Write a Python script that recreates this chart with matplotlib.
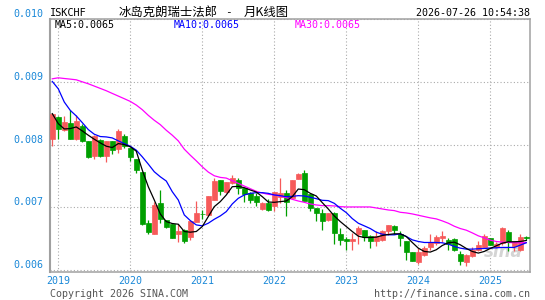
import numpy as np
import pandas as pd
import matplotlib
matplotlib.use("Agg")
import matplotlib.pyplot as plt

# ---------------- data ----------------
symbol = "ISKCHF"
title_name = "冰岛克朗瑞士法郎"
title_sep = "-"
title_kind = "月K线图"
timestamp = "2026-07-26 10:54:38"
copyright_txt = "Copyright 2026 SINA.COM"
url_txt = "http://finance.sina.com.cn"
start_month = "2018-12"

opens = [0.008095, 0.008439, 0.008227, 0.008343, 0.008084, 0.008296, 0.008053, 0.007815, 0.008068, 0.007815,
         0.008053, 0.007931, 0.008132, 0.007947, 0.007767, 0.007566, 0.006757, 0.006577, 0.007063, 0.006798,
         0.006730, 0.006571, 0.006630, 0.006524, 0.006772, 0.006899, 0.006878, 0.007116, 0.007434, 0.007238,
         0.007381, 0.007434, 0.007312, 0.007222, 0.007180, 0.006973, 0.007063, 0.007026, 0.007169, 0.007222,
         0.007153, 0.007450, 0.007540, 0.007211, 0.006984, 0.006905, 0.006798, 0.006915, 0.006577, 0.006497,
         0.006455, 0.006577, 0.006640, 0.006545, 0.006455, 0.006481, 0.006624, 0.006704, 0.006577, 0.006455,
         0.006285, 0.006122, 0.006243, 0.006360, 0.006428, 0.006508, 0.006471, 0.006492, 0.006259, 0.006122,
         0.006217, 0.006323, 0.006365, 0.006508, 0.006365, 0.006428, 0.006603, 0.006375, 0.006312, 0.006534]
highs = [0.008507, 0.008450, 0.008454, 0.008544, 0.008465, 0.008333, 0.008058, 0.008159, 0.008084, 0.008058,
         0.008060, 0.008253, 0.008174, 0.007950, 0.007770, 0.007570, 0.006798, 0.007079, 0.007275, 0.006802,
         0.006735, 0.006730, 0.006651, 0.006790, 0.007100, 0.006957, 0.007185, 0.007460, 0.007440, 0.007405,
         0.007513, 0.007471, 0.007315, 0.007248, 0.007232, 0.007090, 0.007127, 0.007248, 0.007471, 0.007275,
         0.007438, 0.007550, 0.007590, 0.007215, 0.006990, 0.006968, 0.006915, 0.006931, 0.006666, 0.006534,
         0.006597, 0.006709, 0.006645, 0.006561, 0.006614, 0.006640, 0.006725, 0.006710, 0.006624, 0.006460,
         0.006290, 0.006349, 0.006375, 0.006577, 0.006561, 0.006624, 0.006508, 0.006508, 0.006296, 0.006250,
         0.006365, 0.006455, 0.006577, 0.006512, 0.006440, 0.006693, 0.006640, 0.006460, 0.006577, 0.006550]
lows = [0.007978, 0.008084, 0.008220, 0.008080, 0.008070, 0.008037, 0.007788, 0.007767, 0.007804, 0.007724,
        0.007846, 0.007867, 0.007952, 0.007735, 0.007540, 0.006720, 0.006577, 0.006570, 0.006757, 0.006677,
        0.006510, 0.006439, 0.006428, 0.006481, 0.006762, 0.006809, 0.006875, 0.007110, 0.007196, 0.007230,
        0.007365, 0.007206, 0.007090, 0.007074, 0.007021, 0.006957, 0.006947, 0.006947, 0.007074, 0.006867,
        0.007150, 0.007445, 0.007100, 0.006947, 0.006788, 0.006640, 0.006783, 0.006413, 0.006402, 0.006323,
        0.006323, 0.006418, 0.006465, 0.006349, 0.006375, 0.006470, 0.006561, 0.006577, 0.006386, 0.006164,
        0.006137, 0.006101, 0.006217, 0.006323, 0.006402, 0.006439, 0.006312, 0.006300, 0.006074, 0.006058,
        0.006210, 0.006296, 0.006360, 0.006391, 0.006350, 0.006402, 0.006296, 0.006296, 0.006300, 0.006481]
closes = [0.008492, 0.008243, 0.008359, 0.008084, 0.008370, 0.008053, 0.007799, 0.008132, 0.007815, 0.008053,
          0.007910, 0.008211, 0.007973, 0.007804, 0.007592, 0.006735, 0.006603, 0.007037, 0.006810, 0.006693,
          0.006518, 0.006624, 0.006455, 0.006783, 0.006905, 0.006889, 0.007180, 0.007418, 0.007259, 0.007402,
          0.007465, 0.007312, 0.007211, 0.007116, 0.007079, 0.007074, 0.006957, 0.007238, 0.007222, 0.007079,
          0.007434, 0.007529, 0.007106, 0.006984, 0.006905, 0.006788, 0.006905, 0.006587, 0.006471, 0.006455,
          0.006497, 0.006677, 0.006534, 0.006455, 0.006545, 0.006624, 0.006720, 0.006640, 0.006518, 0.006285,
          0.006148, 0.006285, 0.006349, 0.006439, 0.006524, 0.006545, 0.006418, 0.006312, 0.006137, 0.006243,
          0.006323, 0.006402, 0.006550, 0.006402, 0.006418, 0.006667, 0.006455, 0.006455, 0.006534, 0.006508]

ma5 = [0.008492, 0.008333, 0.008248, 0.008254, 0.008280, 0.008217, 0.008148, 0.008084, 0.008026, 0.007973,
       0.007952, 0.008015, 0.008000, 0.007963, 0.007894, 0.007592, 0.007328, 0.007116, 0.006894, 0.006772,
       0.006741, 0.006730, 0.006614, 0.006603, 0.006614, 0.006693, 0.006852, 0.007010, 0.007090, 0.007196,
       0.007328, 0.007333, 0.007312, 0.007275, 0.007243, 0.007169, 0.007084, 0.007079, 0.007090, 0.007100,
       0.007169, 0.007291, 0.007280, 0.007222, 0.007180, 0.007074, 0.006973, 0.006862, 0.006772, 0.006693,
       0.006614, 0.006540, 0.006518, 0.006518, 0.006524, 0.006550, 0.006566, 0.006577, 0.006577, 0.006534,
       0.006439, 0.006349, 0.006296, 0.006286, 0.006323, 0.006391, 0.006434, 0.006444, 0.006402, 0.006344,
       0.006296, 0.006270, 0.006296, 0.006344, 0.006386, 0.006428, 0.006450, 0.006450, 0.006455, 0.006471]
ma10 = [0.009005, 0.008888, 0.008677, 0.008544, 0.008455, 0.008349, 0.008238, 0.008164, 0.008127, 0.008121,
        0.008105, 0.008058, 0.008015, 0.007973, 0.007910, 0.007804, 0.007688, 0.007566, 0.007486, 0.007418,
        0.007248, 0.007116, 0.006878, 0.006788, 0.006719, 0.006704, 0.006746, 0.006809, 0.006862, 0.006931,
        0.007053, 0.007143, 0.007196, 0.007222, 0.007233, 0.007233, 0.007222, 0.007196, 0.007185, 0.007169,
        0.007174, 0.007185, 0.007180, 0.007159, 0.007137, 0.007111, 0.007106, 0.007063, 0.006984, 0.006915,
        0.006820, 0.006746, 0.006704, 0.006661, 0.006603, 0.006571, 0.006561, 0.006561, 0.006577, 0.006534,
        0.006481, 0.006455, 0.006439, 0.006439, 0.006439, 0.006434, 0.006413, 0.006376, 0.006349, 0.006333,
        0.006333, 0.006339, 0.006344, 0.006349, 0.006354, 0.006360, 0.006360, 0.006360, 0.006397, 0.006434]
ma30 = [0.009047, 0.009063, 0.009052, 0.009042, 0.009031, 0.008999, 0.008968, 0.008931, 0.008894, 0.008857,
        0.008814, 0.008772, 0.008730, 0.008687, 0.008629, 0.008555, 0.008465, 0.008386, 0.008317, 0.008227,
        0.008148, 0.008058, 0.007926, 0.007830, 0.007740, 0.007645, 0.007561, 0.007502, 0.007476, 0.007465,
        0.007423, 0.007381, 0.007338, 0.007296, 0.007254, 0.007227, 0.007206, 0.007196, 0.007180, 0.007153,
        0.007127, 0.007100, 0.007079, 0.007053, 0.007037, 0.007026, 0.007026, 0.007021, 0.007010, 0.007005,
        0.007005, 0.007005, 0.007005, 0.007005, 0.006989, 0.006973, 0.006957, 0.006947, 0.006920, 0.006910,
        0.006894, 0.006873, 0.006852, 0.006831, 0.006815, 0.006783, 0.006746, 0.006698, 0.006661, 0.006635,
        0.006592, 0.006545, 0.006513, 0.006476, 0.006455, 0.006444, 0.006439, 0.006434, 0.006434, 0.006439]

ma_labels = ["MA5:0.0065", "MA10:0.0065", "MA30:0.0065"]
y_ticks = [0.006, 0.007, 0.008, 0.009, 0.010]
y_tick_labels = ["0.006", "0.007", "0.008", "0.009", "0.010"]

# ---------------- styling ----------------
UP = "#f65a5a"
DOWN = "#009f00"
TICK_BLUE = "#1a88d8"
MONO = "DejaVu Sans Mono"
CJK = ["Noto Sans CJK SC", "DejaVu Sans"]

W, H = 545, 300
fig = plt.figure(figsize=(W / 100, H / 100), dpi=100)
fig.patch.set_facecolor("white")

ax_l, ax_r, ax_t, ax_b = 50, 530, 19, 271.6
ax = fig.add_axes([ax_l / W, 1 - ax_b / H, (ax_r - ax_l) / W, (ax_b - ax_t) / H])

n = len(closes)
x = np.arange(n)
months = pd.period_range(start_month, periods=n, freq="M")

o = np.array(opens); c = np.array(closes)
hi = np.array(highs); lo = np.array(lows)
up = c >= o
colors = np.where(up, UP, DOWN)

# wicks
ax.vlines(x, lo, hi, colors=colors, linewidth=0.9, zorder=3)
# bodies
body_bottom = np.minimum(o, c)
body_h = np.abs(c - o)
ax.bar(x, body_h, bottom=body_bottom, width=0.76, color=colors,
       edgecolor=colors, linewidth=0.5, zorder=4)

# moving averages
ax.plot(x, ma30, color="#ff00ff", linewidth=0.9, zorder=5)
ax.plot(x, ma10, color="#0000ff", linewidth=0.9, zorder=6)
ax.plot(x, ma5, color="#000000", linewidth=0.9, zorder=7)

# axes
ax.set_xlim(-0.38, n - 0.38)
ax.set_ylim(0.005975, 0.010)
jan_idx = [i for i, m in enumerate(months) if m.month == 1]
ax.set_xticks(jan_idx)
ax.set_xticklabels([str(months[i].year) for i in jan_idx])
ax.set_yticks(y_ticks)
ax.set_yticklabels(y_tick_labels)
ax.tick_params(axis="both", length=0, colors=TICK_BLUE, labelsize=7.2)
ax.tick_params(axis="x", pad=3)
ax.tick_params(axis="y", pad=5)
for lab in ax.get_xticklabels() + ax.get_yticklabels():
    lab.set_family(MONO)
for lab in ax.get_yticklabels():
    lab.set_verticalalignment("bottom")
ax.grid(True, color="#aaaaaa", linestyle=(0, (1, 2)), linewidth=0.8, zorder=0)
for s in ax.spines.values():
    s.set_color("#a0a0a0")
    s.set_linewidth(1.1)
ax.spines["left"].set_linewidth(1.5)
ax.set_facecolor("white")

# watermark
ax.text(0.985, 0.04, "sina", transform=ax.transAxes, ha="right", va="bottom",
        fontsize=12, fontweight="bold", fontstyle="italic", color="#d4d4d4",
        family="DejaVu Sans", zorder=2)

# header texts
def ftxt(px, py, s, **kw):
    fig.text(px / W, 1 - py / H, s, **kw)

ftxt(50, 12.5, symbol, ha="left", va="center", fontsize=7.4, family=MONO, color="#000000")
ftxt(119, 12.5, title_name, ha="left", va="center", fontsize=8.9, family=CJK, color="#000000")
ftxt(228, 12.5, title_sep, ha="center", va="center", fontsize=8.0, family=MONO, color="#000000")
ftxt(244, 12.5, title_kind, ha="left", va="center", fontsize=8.9, family=CJK, color="#000000")
ftxt(530, 12.5, timestamp, ha="right", va="center", fontsize=7.2, family=MONO, color="#000000")

ma_colors = ["#000000", "#0000ff", "#ff00ff"]
ma_x = [55, 174, 295]
for lbl, col, px in zip(ma_labels, ma_colors, ma_x):
    ftxt(px, 25, lbl, ha="left", va="center", fontsize=7.2, family=MONO, color=col)

ftxt(50, 294, copyright_txt, ha="left", va="center", fontsize=7.2, family=MONO, color="#555555")
ftxt(530, 294, url_txt, ha="right", va="center", fontsize=7.2, family=MONO, color="#555555")

fig.savefig("out.png", dpi=100, facecolor="white")
